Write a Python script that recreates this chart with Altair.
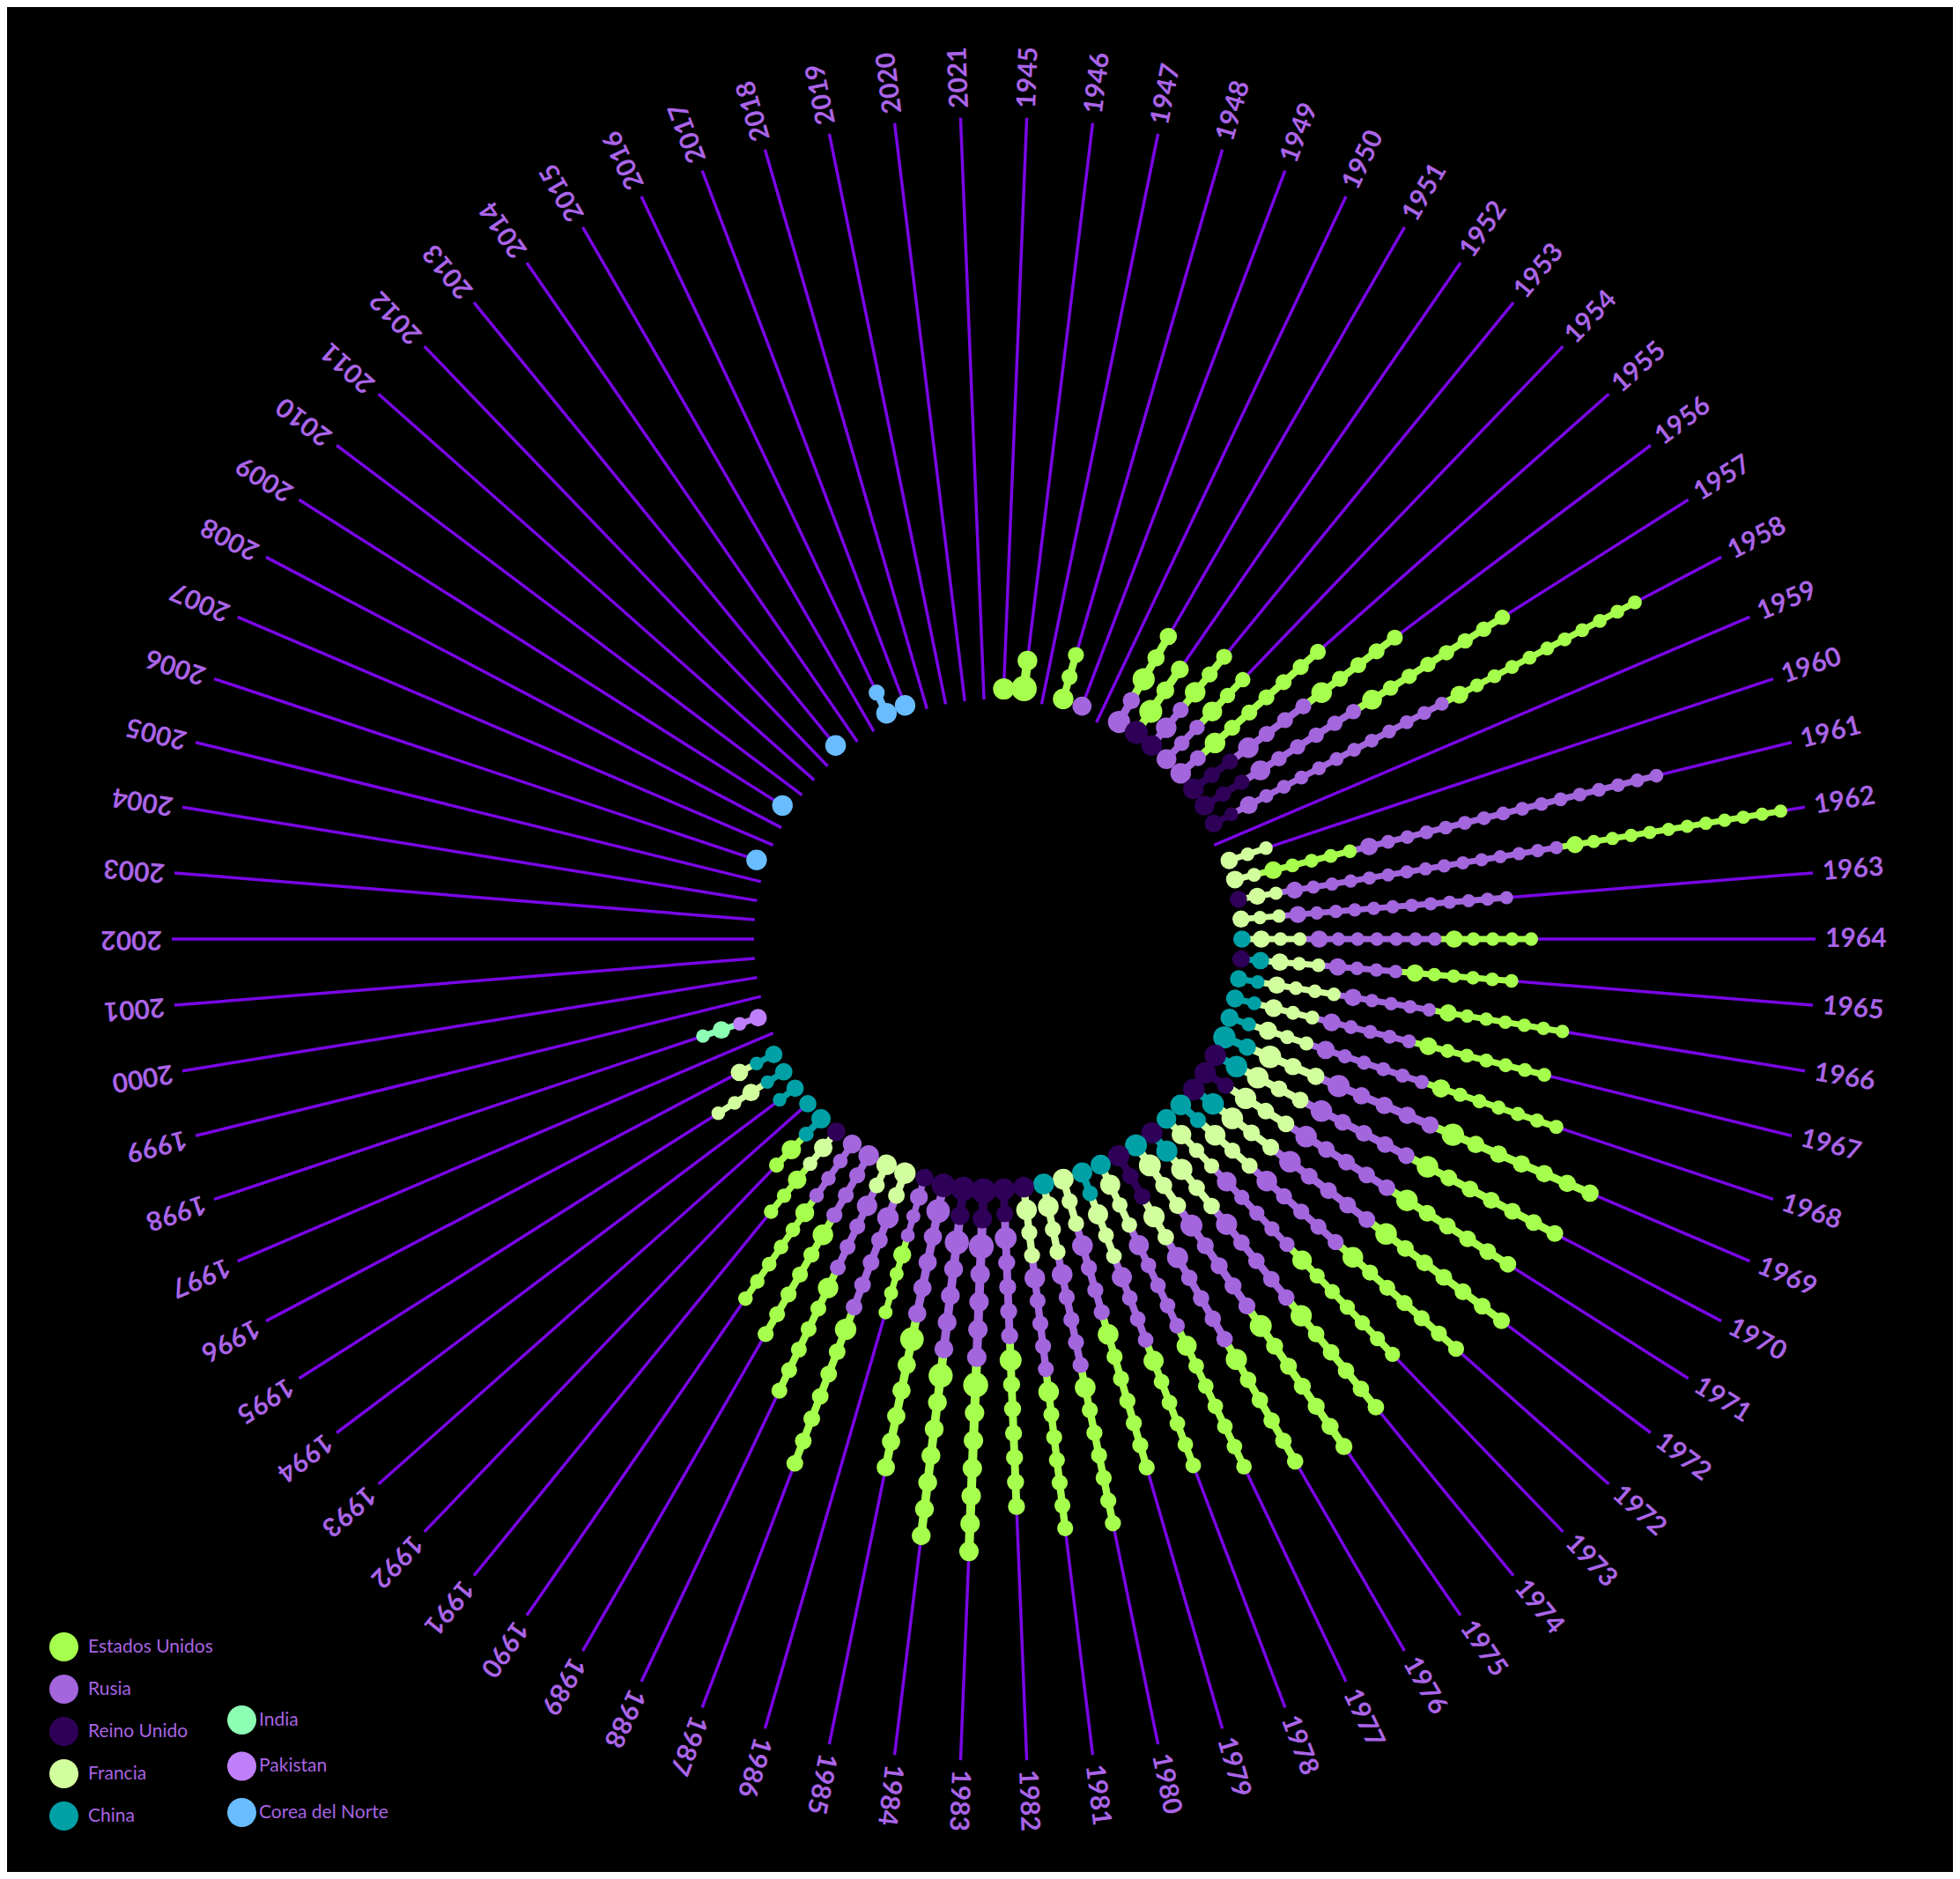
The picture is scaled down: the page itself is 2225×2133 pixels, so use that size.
import altair as alt
import pandas as pd

# one spoke per label (the 1972 label appears twice in the original)
anios = [str(a) for a in range(1945, 1973)] + ["1972"] + [str(a) for a in range(1973, 2022)]

# beads per spoke; index = position in anios
#                 1945..1954                      1955..1964                         1965..1974
estados_unidos = [1, 2, 0, 3, 0, 0, 3, 3, 3, 3,   7, 5, 8, 11, 0, 0, 5, 12, 0, 5,   6, 7, 7, 7, 7, 7, 6, 7, 7, 7, 6,
                  7, 6, 7, 6, 7, 7, 7, 7, 7, 7,   6, 4, 7, 6, 6, 6, 3, 2] + [0] * 29
rusia = [0, 0, 0, 0, 1, 0, 2, 0, 2, 3,   2, 4, 6, 12, 0, 0, 16, 15, 12, 7,   4, 5, 5, 6, 5, 5, 5, 5, 5, 5, 5,
         5, 5, 5, 4, 4, 5, 5, 5, 5, 5,   5, 3, 5, 4, 4, 4] + [0] * 31
reino_unido = [0, 0, 0, 0, 0, 0, 0, 1, 1, 0,   0, 3, 3, 2, 0, 0, 0, 1, 0, 0,   1, 0, 0, 0, 0, 1, 2, 1, 0, 0, 1,
               0, 3, 0, 0, 0, 0, 1, 2, 2, 2,   1, 1, 0, 0, 0, 0, 1] + [0] * 30
francia = [0] * 15 + [3, 2, 2, 3, 3,   3, 4, 3, 3, 3, 3, 3, 3, 3, 3, 3,
                      3, 2, 3, 3, 3, 3, 3, 0, 0, 0,   0, 0, 2, 2, 0, 0, 2, 0, 0, 0, 3, 1] + [0] * 25
china = [0] * 19 + [1,   1, 2, 2, 2, 2, 1, 0, 1, 2, 1, 1,
                    1, 0, 1, 2, 0, 1, 0, 0, 0, 0,   0, 0, 0, 0, 0, 0, 0, 2, 1, 2, 2, 2] + [0] * 25
india = [0] * 54 + [2] + [0] * 23
pakistan = [0] * 54 + [2] + [0] * 23
corea_del_norte = [0] * 62 + [1, 0, 0, 1, 0, 0, 0, 1, 0, 0, 2, 1, 0, 0, 0, 0]

# bead spacing on each spoke (beads are bigger on some years)
paso = [27, 32, 22, 26, 24, 22, 28, 29, 26, 25,   26, 26, 25, 22.5, 22, 22, 22.4, 21.5, 21.6, 21.9,
        22, 21.9, 22.6, 23, 28.2, 27.2, 27.1, 27.3, 26.1, 24.7, 26.8,
        27.7, 26.7, 25.3, 25.4, 26.2, 26.2, 26, 27.7, 31.5, 30.5,   29.7, 22.7, 27.1, 25.8, 26, 23.7, 23.4, 24.3,
        22, 22, 22, 22, 22, 22] + [26] * 23

paises = ["Estados Unidos", "Rusia", "Reino Unido", "Francia", "China", "India", "Pakistan", "Corea del Norte"]
colores = ["#a6ff4d", "#a366dd", "#2f0058", "#d2ff9e", "#00a1a6", "#8dffb5", "#c07ffa", "#68bcff"]
conteos = dict(zip(paises, [estados_unidos, rusia, reino_unido, francia, china, india, pakistan, corea_del_norte]))

# order of the chains from the centre outwards
orden = ["Reino Unido", "China", "Francia", "Pakistan", "Rusia", "Estados Unidos", "India", "Corea del Norte"]
orden_especial = {16: ["Francia", "Estados Unidos", "Rusia"]}

N = len(anios)
R0 = 272      # inner black disc
R_FIN = 933   # end of the spokes
R_TXT = 944   # year labels

filas = []
for i, anio in enumerate(anios):
    k = 0
    for pais in orden_especial.get(i, orden):
        for j in range(conteos[pais][i]):
            filas.append({"i": i, "anio": anio, "pais": pais, "k": k, "primero": int(j == 0), "paso": paso[i]})
            k += 1
cuentas = pd.DataFrame(filas)
radios = pd.DataFrame({"i": list(range(N)), "anio": anios})

W, H = 2209, 2117
CX, CY = 1120, 1058
xs = alt.Scale(domain=[-CX, W - CX], nice=False, zero=False)
ys = alt.Scale(domain=[-(H - CY), CY], nice=False, zero=False)

def px(campo):
    return alt.X(campo, type="quantitative", scale=xs, axis=None)

def py(campo):
    return alt.Y(campo, type="quantitative", scale=ys, axis=None)

ang = f"(datum.i + 0.5) * 2 * PI / {N}"

# spokes and labels
base_radios = alt.Chart(radios).transform_calculate(
    t=ang
).transform_calculate(
    xa=f"{R0} * sin(datum.t)", ya=f"{R0} * cos(datum.t)",
    xb=f"{R_FIN} * sin(datum.t)", yb=f"{R_FIN} * cos(datum.t)",
    xt=f"{R_TXT} * sin(datum.t)", yt=f"{R_TXT} * cos(datum.t)",
    giro=f"((datum.i + 0.5) * 360 / {N} + 270) % 360",
)
rayos = base_radios.mark_rule(color="#7a06e6", strokeWidth=3.5).encode(
    x=px("xa"), y=py("ya"), x2="xb:Q", y2="yb:Q"
)
etiquetas = base_radios.mark_text(
    align="left", baseline="middle", font="Lato", fontWeight="bold", fontSize=30, color="#aa64e8"
).encode(
    x=px("xt"), y=py("yt"), text="anio:N", angle=alt.Angle("giro:Q", scale=None)
)

# beads
base_cuentas = alt.Chart(cuentas).transform_calculate(
    t=ang,
    r=f"{R0} + datum.paso * (datum.k + 0.45)",
    pais_cuello="datum.pais",
).transform_calculate(
    r_prev="datum.r - datum.paso",
    x="datum.r * sin(datum.t)", y="datum.r * cos(datum.t)",
    d="datum.paso * (datum.primero ? 0.9 : 0.7)",
    cuello="datum.paso * 0.32",
).transform_calculate(
    x0="datum.r_prev * sin(datum.t)", y0="datum.r_prev * cos(datum.t)",
    tam="datum.d * datum.d",
)

mayores = paises[:5]
menores = paises[5:]
leyenda1 = alt.Legend(
    title=None, orient="none", legendX=48, legendY=1845, symbolType="circle", symbolSize=1089,
    symbolStrokeWidth=0, symbolOpacity=1, labelFont="Lato", labelFontSize=21, labelColor="#a764e0",
    labelOffset=11, rowPadding=15, padding=0,
)
leyenda2 = alt.Legend(
    title=None, orient="none", legendX=250, legendY=1928, symbolType="circle", symbolSize=1089,
    symbolStrokeWidth=0, symbolOpacity=1, labelFont="Lato", labelFontSize=21, labelColor="#a764e0",
    labelOffset=3, rowPadding=19.5, padding=0,
)
color_may = alt.Color("pais:N", scale=alt.Scale(domain=mayores, range=colores[:5]), legend=leyenda1)
escala_men = alt.Scale(domain=menores, range=colores[5:])

f_may = alt.FieldOneOfPredicate(field="pais", oneOf=mayores)
f_men = alt.FieldOneOfPredicate(field="pais", oneOf=menores)

cuellos_may = base_cuentas.transform_filter(f_may).transform_filter("datum.k > 0").mark_rule().encode(
    x=px("x0"), y=py("y0"), x2="x:Q", y2="y:Q", color=color_may,
    size=alt.Size("cuello:Q", scale=None),
)
cuellos_men = base_cuentas.transform_filter(f_men).transform_filter("datum.k > 0").mark_rule().encode(
    x=px("x0"), y=py("y0"), x2="x:Q", y2="y:Q",
    stroke=alt.Stroke("pais_cuello:N", scale=alt.Scale(domain=menores, range=colores[5:]), legend=None),
    size=alt.Size("cuello:Q", scale=None),
)
cuentas_may = base_cuentas.transform_filter(f_may).mark_circle(opacity=1).encode(
    x=px("x"), y=py("y"), color=color_may, size=alt.Size("tam:Q", scale=None),
)
cuentas_men = base_cuentas.transform_filter(f_men).mark_circle(opacity=1).encode(
    x=px("x"), y=py("y"),
    fill=alt.Fill("pais:N", scale=escala_men, legend=leyenda2),
    size=alt.Size("tam:Q", scale=None),
)

# black disc in the middle, drawn over the inner ends of the chains
disco = alt.Chart(pd.DataFrame({"r": [R0]})).transform_calculate(
    tam="4 * datum.r * datum.r"
).mark_circle(color="black", opacity=1).encode(
    x=alt.X(datum=0, scale=xs, axis=None), y=alt.Y(datum=0, scale=ys, axis=None),
    size=alt.Size("tam:Q", scale=None),
)

chart = alt.layer(
    rayos, cuellos_may, cuellos_men, cuentas_may, cuentas_men, disco, etiquetas
).resolve_scale(
    stroke="independent", fill="independent"
).properties(
    width=W, height=H, padding=0, autosize=alt.AutoSizeParams(type="none")
).configure(
    background="black"
).configure_view(
    strokeWidth=0
)

chart.save("out.html", embed_options={"renderer": "svg", "actions": False})
